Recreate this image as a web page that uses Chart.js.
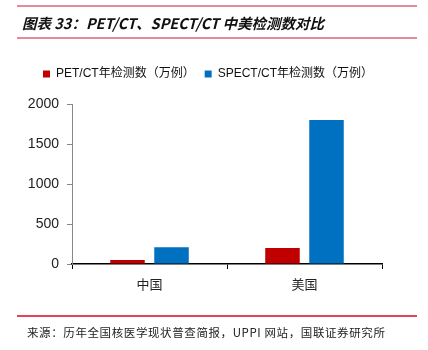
<!DOCTYPE html>
<html>
<head>
<meta charset="utf-8">
<script src="https://cdn.jsdelivr.net/npm/chart.js@4/dist/chart.umd.min.js"></script>
<style>
  body { margin: 0; background: #fff; }
  #wrap { position: relative; width: 428px; height: 350px; }
  .rule { position: absolute; left: 17px; width: 400px; height: 2px; }
  #title {
    position: absolute; left: 22px; top: 12px;
    font: italic bold 14.5px "Noto Sans CJK SC", sans-serif; color: #111;
    white-space: nowrap;
  }
  #source {
    position: absolute; left: 27px; top: 324px;
    font: 11.5px "Noto Sans CJK SC", sans-serif; color: #222;
    letter-spacing: 0.6px; white-space: nowrap;
  }
</style>
</head>
<body>
<div id="wrap">
  <canvas id="chart"></canvas>
  <div class="rule" style="top:5px;background:#e48a9d;"></div>
  <div id="title">图表 33：PET/CT、SPECT/CT 中美检测数对比</div>
  <div class="rule" style="top:37px;background:#e48a9d;"></div>
  <div class="rule" style="top:315px;background:#e6425d;"></div>
  <div id="source">来源：历年全国核医学现状普查简报，UPPI 网站，国联证券研究所</div>
</div>
<script>
// 检测数（万例）
const categories = ['中国', '美国'];
const seriesNames = ['PET/CT年检测数（万例）', 'SPECT/CT年检测数（万例）'];
const petCt = [50, 200];
const spectCt = [210, 1800];
const yMax = 2000;
const yStep = 500;

// legend: extra space below it, and nudge it right of the plot centre
const legendTweak = {
  id: 'legendTweak',
  beforeInit(chart) {
    const fit = chart.legend.fit;
    chart.legend.fit = function () {
      fit.call(this);
      this.height += 14;
    };
  },
  afterLayout(chart) {
    chart.legend.left += 17;
    chart.legend.right += 17;
  }
};

const ctx = document.getElementById('chart').getContext('2d');
new Chart(ctx, {
  type: 'bar',
  data: {
    labels: categories,
    datasets: [
      { label: seriesNames[0], data: petCt, backgroundColor: '#C00000' },
      { label: seriesNames[1], data: spectCt, backgroundColor: '#0070C0' }
    ]
  },
  options: {
    responsive: true,
    maintainAspectRatio: false,
    animation: false,
    categoryPercentage: 0.568,
    barPercentage: 0.784,
    layout: { padding: { top: 58, left: 0, right: 46, bottom: 56 } },
    plugins: {
      tooltip: { enabled: false },
      legend: {
        position: 'top',
        labels: {
          boxWidth: 7,
          boxHeight: 7,
          padding: 10,
          color: '#111',
          font: { family: '"Liberation Sans", "Noto Sans CJK SC", sans-serif', size: 12 }
        }
      }
    },
    scales: {
      x: {
        afterFit: s => { s.height = 30; },
        grid: { drawOnChartArea: false, drawTicks: true, tickLength: 5, color: '#000' },
        border: { color: '#000', width: 1.5 },
        ticks: {
          padding: 7,
          color: '#222',
          font: { family: '"Noto Sans CJK SC", sans-serif', size: 13 }
        }
      },
      y: {
        min: 0,
        max: yMax,
        afterFit: s => { s.width = 72; },
        grid: { drawOnChartArea: false, drawTicks: true, tickLength: 5, color: '#888' },
        border: { color: '#888', width: 1 },
        ticks: {
          stepSize: yStep,
          padding: 8,
          color: '#222',
          font: { family: '"Liberation Sans", sans-serif', size: 14 },
          callback: v => String(v)
        }
      }
    }
  },
  plugins: [legendTweak]
});
</script>
</body>
</html>
